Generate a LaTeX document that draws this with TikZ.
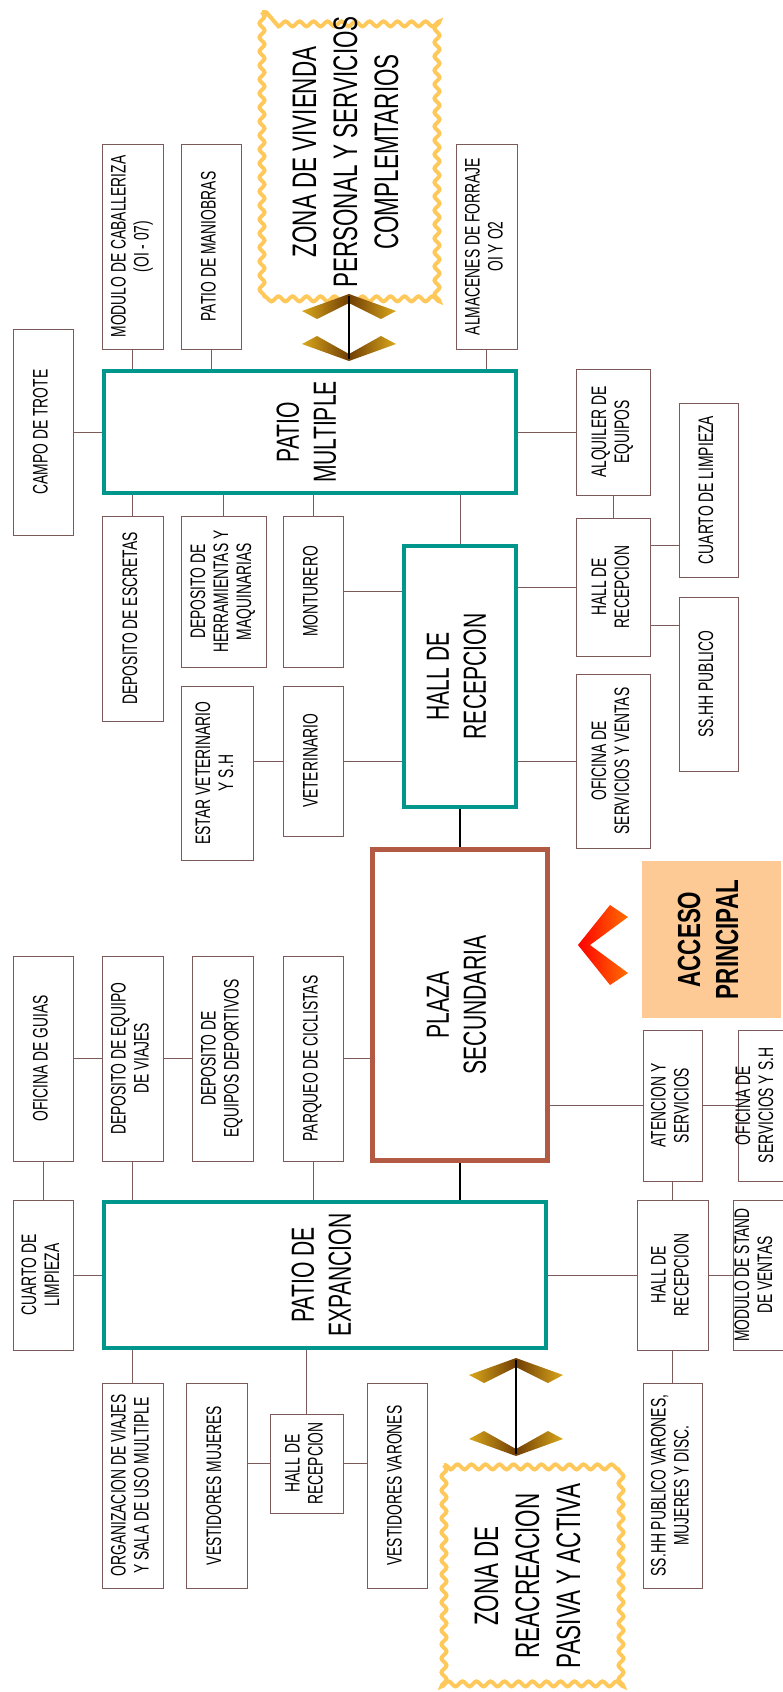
\documentclass[tikz,border=0pt]{standalone}
\usepackage{fontspec}
\usepackage{graphicx}
\usetikzlibrary{decorations.pathmorphing,calc}
\newfontfamily\cf[FakeStretch=0.66]{Liberation Sans}
\newfontfamily\cfb[FakeStretch=0.70]{Liberation Sans}
\definecolor{bxc}{RGB}{125,90,90}
\definecolor{tealb}{RGB}{0,150,140}
\definecolor{plz}{RGB}{178,90,68}
\definecolor{wav}{RGB}{255,200,90}
\definecolor{accf}{RGB}{253,202,150}
\definecolor{goldc}{RGB}{218,168,28}
\definecolor{brnc}{RGB}{112,62,4}
\definecolor{orgc}{RGB}{255,110,0}
\newcommand\rt[1]{\rotatebox{90}{\begin{tabular}{@{}c@{}}#1\end{tabular}}}
\newcommand\smf{\cf\fontsize{21}{23}\selectfont}
\newcommand\bgf{\cf\fontsize{32}{37}\selectfont}
\newcommand\zof{\cf\fontsize{34}{41}\selectfont}
\tikzset{
  box/.style={draw=bxc, line width=1pt, fill=white, inner sep=0pt, outer sep=0pt, font=\smf},
  big/.style={draw=tealb, line width=4pt, fill=white, inner sep=0pt, outer sep=2pt, font=\bgf},
  plazabox/.style={draw=plz, line width=5pt, fill=white, inner sep=0pt, outer sep=2.5pt, font=\bgf},
  link/.style={draw=bxc, line width=1pt},
  blk/.style={draw=black, line width=2pt},
  wavy/.style={draw=wav, line width=4pt, decorate, decoration={snake, segment length=14pt, amplitude=2.5pt}},
  chev/.style={left color=goldc, right color=goldc, middle color=brnc},
}
\begin{document}
\begin{tikzpicture}[x=1pt,y=-1pt]
\path[use as bounding box, clip] (0,0) rectangle (783,1692);
\fill[white] (0,0) rectangle (783,1692);

% ---------- top zone ----------
\draw[wavy] (262,12) rectangle (437,291);
\node[font=\zof, inner sep=0pt] (zv) at (349,152) {\rt{ZONA DE VIVIENDA\\PERSONAL Y SERVICIOS\\COMPLEMTARIOS}};

\node[box, minimum width=61pt, minimum height=205pt] (cab) at (132.5,246.5) {\rt{MODULO DE CABALLERIZA\\(OI - 07)}};
\node[box, minimum width=60pt, minimum height=205pt] (man) at (211,246.5) {\rt{PATIO DE MANIOBRAS}};
\node[box, minimum width=61pt, minimum height=205pt] (alm) at (486.5,246.5) {\rt{ALMACENES DE FORRAJE\\OI Y O2}};
\node[box, minimum width=60pt, minimum height=206pt] (trote) at (43,432) {\rt{CAMPO DE TROTE}};
\node[big, minimum width=412pt, minimum height=122pt] (pm) at (310,432) {\rt{PATIO\\MULTIPLE}};
\node[box, minimum width=74pt, minimum height=126pt] (alq) at (613,432) {\rt{ALQUILER DE\\EQUIPOS}};
\node[box, minimum width=59pt, minimum height=174pt] (cl1) at (708.5,490) {\rt{CUARTO DE LIMPIEZA}};
\node[box, minimum width=61pt, minimum height=205pt] (esc) at (132.5,618.5) {\rt{DEPOSITO DE ESCRETAS}};
\node[box, minimum width=85pt, minimum height=151pt] (herr) at (223.5,591.5) {\rt{DEPOSITO DE\\HERRAMIENTAS Y\\MAQUINARIAS}};
\node[box, minimum width=60pt, minimum height=151pt] (mont) at (313,591.5) {\rt{MONTURERO}};
\node[big, minimum width=112pt, minimum height=261pt] (hr) at (460,676.5) {\rt{HALL DE\\RECEPCION}};
\node[box, minimum width=74pt, minimum height=138pt] (hr2) at (613,587) {\rt{HALL DE\\RECEPCION}};
\node[box, minimum width=59pt, minimum height=174pt] (sshh) at (708.5,684) {\rt{SS.HH PUBLICO}};
\node[box, minimum width=72pt, minimum height=174pt] (estar) at (217,773) {\rt{ESTAR VETERINARIO\\Y S.H}};
\node[box, minimum width=60pt, minimum height=150pt] (vet) at (313,761) {\rt{VETERINARIO}};
\node[box, minimum width=74pt, minimum height=174pt] (ofv) at (613,761) {\rt{OFICINA DE\\SERVICIOS Y VENTAS}};

% ---------- middle ----------
\node[plazabox, minimum width=175pt, minimum height=311pt] (plaza) at (460,1005) {\rt{PLAZA\\SECUNDARIA}};
\node[fill=accf, inner sep=0pt, minimum width=139pt, minimum height=157pt, font=\cfb\bfseries\fontsize{32}{38}\selectfont] (acc) at (711.5,939.5) {\rt{ACCESO\\PRINCIPAL}};
\node[box, minimum width=60pt, minimum height=205pt] (guias) at (43,1058.5) {\rt{OFICINA DE GUIAS}};
\node[box, minimum width=61pt, minimum height=205pt] (viajes) at (132.5,1058.5) {\rt{DEPOSITO DE EQUIPO\\DE VIAJES}};
\node[box, minimum width=61pt, minimum height=205pt] (dep) at (222.5,1058.5) {\rt{DEPOSITO DE\\EQUIPOS DEPORTIVOS}};
\node[box, minimum width=60pt, minimum height=205pt] (parq) at (313,1058.5) {\rt{PARQUEO DE CICLISTAS}};
\node[box, minimum width=59pt, minimum height=151pt] (aten) at (672.5,1105.5) {\rt{ATENCION Y\\SERVICIOS}};
\node[box, minimum width=62pt, minimum height=151pt] (ofsh) at (769,1105.5) {\makebox[0pt][c]{\rt{OFICINA DE\\SERVICIOS Y S.H}\kern24pt}};

% ---------- bottom ----------
\node[big, minimum width=442pt, minimum height=146pt] (pe) at (325,1275) {\rt{PATIO DE\\EXPANCION}};
\node[box, minimum width=60pt, minimum height=150pt] (cl2) at (43,1275) {\rt{CUARTO DE\\LIMPIEZA}};
\node[box, minimum width=71pt, minimum height=150pt] (hr3) at (672.5,1275) {\rt{HALL DE\\RECEPCION}};
\node[box, minimum width=64pt, minimum height=150pt] (stand) at (765,1275) {\makebox[0pt][c]{\rt{MODULO DE STAND\\DE VENTAS}\kern18pt}};
\node[box, minimum width=61pt, minimum height=205pt] (org) at (132.5,1485.5) {\rt{ORGANIZACION DE VIAJES\\Y SALA DE USO MULTIPLE}};
\node[box, minimum width=61pt, minimum height=205pt] (muj) at (216.5,1485.5) {\rt{VESTIDORES MUJERES}};
\node[box, minimum width=73pt, minimum height=99pt] (hr4) at (306.5,1463.5) {\rt{HALL DE\\RECEPCION}};
\node[box, minimum width=60pt, minimum height=205pt] (var) at (397,1485.5) {\rt{VESTIDORES VARONES}};
\node[box, minimum width=59pt, minimum height=205pt] (ssv) at (672.5,1485.5) {\rt{SS.HH PUBLICO VARONES,\\MUJERES Y DISC.}};

\draw[wavy] (444,1465) rectangle (620,1686);
\node[font=\zof, inner sep=0pt] (zr) at (531,1576) {\rt{ZONA DE\\REACREACION\\PASIVA Y ACTIVA}};

% ---------- connectors ----------
\draw[link] (cab.south) -- (cab.south |- pm.north);
\draw[link] (man.south) -- (man.south |- pm.north);
\draw[link] (alm.south) -- (alm.south |- pm.north);
\draw[link] (trote.east) -- (pm.west);
\draw[link] (pm.east) -- (alq.west);
\draw[link] (esc.north) -- (esc.north |- pm.south);
\draw[link] (herr.north) -- (herr.north |- pm.south);
\draw[link] (mont.north) -- (mont.north |- pm.south);
\draw[link] (hr.north) -- (hr.north |- pm.south);
\draw[link] (mont.east) -- (mont.east -| hr.west);
\draw[link] (vet.east) -- (vet.east -| hr.west);
\draw[link] (vet.west) -- (vet.west -| estar.east);
\draw[link] (hr2.west) -- (hr2.west -| hr.east);
\draw[link] (ofv.west) -- (ofv.west -| hr.east);
\draw[link] (alq.south) -- (hr2.north);
\coordinate (h2a) at ([yshift=42pt]hr2.east);
\coordinate (h2b) at ([yshift=-38pt]hr2.east);
\draw[link] (h2a) -- (h2a -| cl1.west);
\draw[link] (h2b) -- (h2b -| sshh.west);

\draw[link] (guias.east) -- (viajes.west);
\draw[link] (viajes.east) -- (dep.west);
\draw[link] (parq.east) -- (parq.east -| plaza.west);
\draw[link] (aten.west) -- (aten.west -| plaza.east);
\draw[link] (aten.east) -- (ofsh.west);
\draw[link] (aten.south) -- (hr3.north);
\draw[link] (guias.south) -- (cl2.north);
\draw[link] (viajes.south) -- (viajes.south |- pe.north);
\draw[link] (parq.south) -- (parq.south |- pe.north);

\draw[link] (cl2.east) -- (pe.west);
\draw[link] (pe.east) -- (hr3.west);
\draw[link] (hr3.east) -- (stand.west);
\draw[link] (org.north) -- (org.north |- pe.south);
\draw[link] (hr4.north) -- (hr4.north |- pe.south);
\draw[link] (hr4.west) -- (hr4.west -| muj.east);
\draw[link] (hr4.east) -- (hr4.east -| var.west);
\draw[link] (hr3.south) -- (ssv.north);

\draw[blk] (hr.south) -- (plaza.north);
\draw[blk] (plaza.south) -- (plaza.south |- pe.north);

% ---------- chevrons ----------
\coordinate (ta) at (349,296);
\coordinate (tb) at (349,359);
\shade[chev] (349,294) -- (396,311) -- (381,319) -- (349,303) -- (317,319) -- (302,311) -- cycle;
\shade[chev] (349,361) -- (396,344) -- (381,336) -- (349,354) -- (317,336) -- (302,344) -- cycle;
\draw[black, line width=1.6pt] (ta) -- (tb);

\coordinate (ba) at (516,1360);
\coordinate (bb) at (516,1454);
\shade[chev] (516,1358) -- (563,1375) -- (548,1383) -- (516,1367) -- (484,1383) -- (469,1375) -- cycle;
\shade[chev] (516,1456) -- (563,1439) -- (548,1431) -- (516,1449) -- (484,1431) -- (469,1439) -- cycle;
\draw[black, line width=1.6pt] (ba) -- (bb);

\shade[left color=red, right color=orgc] (578,945) -- (610,905) -- (628,917) -- (590,945) -- (628,973) -- (610,985) -- cycle;
\end{tikzpicture}
\end{document}
